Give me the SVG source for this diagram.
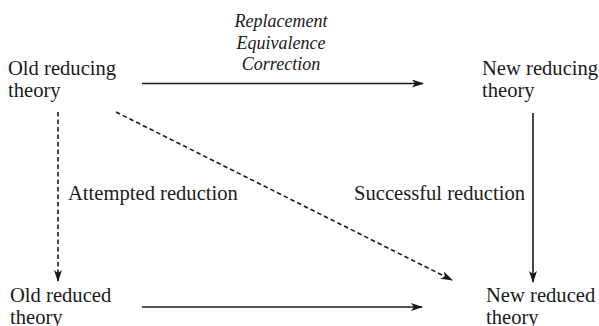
<svg xmlns="http://www.w3.org/2000/svg" width="599" height="326" viewBox="0 0 599 326">
  <style>
    .lbl { font-family: "Liberation Serif", "DejaVu Serif", serif; font-size: 20.6px; fill: #1a1a1a; }
    .it { font-family: "Liberation Serif", "DejaVu Serif", serif; font-size: 18px; font-style: italic; fill: #1a1a1a; }
    .edge { stroke: #1a1a1a; stroke-width: 1.6; fill: none; }
    .dash { stroke-dasharray: 4.5 3; }
  </style>
  <defs>
    <!-- narrow filled arrowhead with a shallow notch -->
    <marker id="arrow" viewBox="0 0 12 8" refX="11" refY="4" markerWidth="12" markerHeight="8" markerUnits="userSpaceOnUse" orient="auto">
      <path d="M0,0 L12,4 L0,8 L3,4 Z" fill="#1a1a1a"/>
    </marker>
  </defs>
  <rect width="599" height="326" fill="#ffffff"/>

  <g id="connectors">
    <line class="edge" x1="142" y1="83.5" x2="423" y2="83.5" marker-end="url(#arrow)"/>
    <line class="edge" x1="142" y1="307" x2="422" y2="307" marker-end="url(#arrow)"/>
    <line class="edge" x1="533" y1="113" x2="533" y2="282" marker-end="url(#arrow)"/>
    <line class="edge dash" x1="58" y1="112" x2="58" y2="281" marker-end="url(#arrow)"/>
    <line class="edge dash" x1="116" y1="112" x2="452" y2="280" marker-end="url(#arrow)"/>
    <g id="edge-labels">
      <text class="it" x="281" y="27" text-anchor="middle">Replacement</text>
      <text class="it" x="281" y="49" text-anchor="middle">Equivalence</text>
      <text class="it" x="281" y="70" text-anchor="middle">Correction</text>
      <text class="lbl" x="68" y="200">Attempted reduction</text>
      <text class="lbl" x="525" y="200" text-anchor="end">Successful reduction</text>
    </g>
  </g>

  <g id="old-reducing">
    <text class="lbl" x="8" y="75">Old reducing</text>
    <text class="lbl" x="8" y="97">theory</text>
  </g>
  <g id="new-reducing">
    <text class="lbl" x="482" y="75">New reducing</text>
    <text class="lbl" x="482" y="97">theory</text>
  </g>
  <g id="old-reduced">
    <text class="lbl" x="10" y="302">Old reduced</text>
    <text class="lbl" x="10" y="324">theory</text>
  </g>
  <g id="new-reduced">
    <text class="lbl" x="486" y="302">New reduced</text>
    <text class="lbl" x="486" y="324">theory</text>
  </g>
</svg>
